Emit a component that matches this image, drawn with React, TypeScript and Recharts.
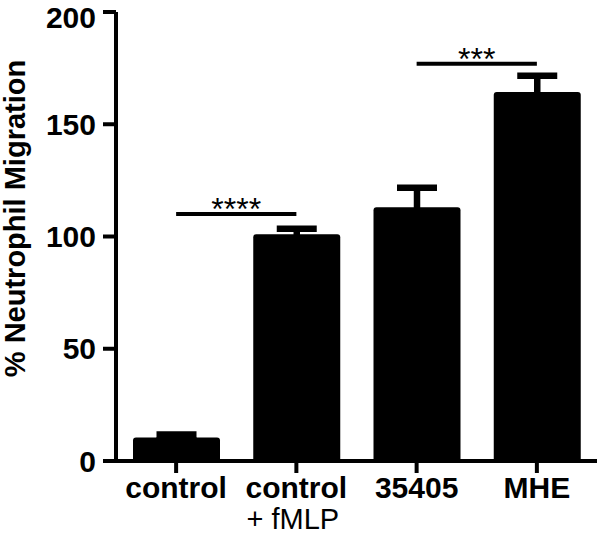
import { BarChart, Bar, XAxis, YAxis, ErrorBar, ReferenceLine } from "recharts";

const categories = ["control", "control + fMLP", "35405", "MHE"];
const means = [10.5, 101, 113, 164.4];
const errors = [1.3, 2.5, 8.7, 7.2];
const yTicks = [0, 50, 100, 150, 200];

// significance brackets: from, to, height, stars
const sigFrom = ["control", "35405"];
const sigTo = ["control + fMLP", "MHE"];
const sigY = [110, 177];
const sigText = ["****", "***"];

const data = categories.map((name, i) => ({ name, mean: means[i], err: errors[i] }));

const FONT = "'Liberation Sans', Arial, sans-serif";

const XTick = (props: any) => {
  const { x, y, payload } = props;
  const parts = String(payload.value).split(" + ");
  return (
    <g>
      <text x={x} y={y + 21} textAnchor="middle" fontFamily={FONT} fontSize={30} fontWeight="bold" fill="#000">
        {parts[0]}
      </text>
      {parts[1] && (
        <text x={x - 3.5} y={y + 52} textAnchor="middle" fontFamily={FONT} fontSize={29} fill="#000">
          {"+ " + parts[1]}
        </text>
      )}
    </g>
  );
};

const YLabel = (props: any) => {
  const { viewBox } = props;
  const cx = viewBox.x + 25;
  const cy = viewBox.y + viewBox.height / 2 - 18;
  return (
    <text
      x={cx}
      y={cy}
      transform={`rotate(-90 ${cx} ${cy})`}
      textAnchor="middle"
      fontFamily={FONT}
      fontSize={29}
      fontWeight="bold"
      fill="#000"
    >
      % Neutrophil Migration
    </text>
  );
};

const Stars = (props: any) => {
  const { viewBox, text } = props;
  return (
    <text
      x={viewBox.x + viewBox.width / 2}
      y={viewBox.y + 6}
      textAnchor="middle"
      fontFamily={FONT}
      fontSize={32}
      fill="#000"
    >
      {text}
    </text>
  );
};

export default function App() {
  return (
    <div style={{ position: "absolute", left: 0, top: 0, background: "#fff" }}>
      <BarChart width={600} height={536} data={data} margin={{ top: 12, right: 3, bottom: 0, left: 0 }}>
        <XAxis
          dataKey="name"
          height={75}
          axisLine={{ stroke: "#000", strokeWidth: 4 }}
          tickLine={{ stroke: "#000", strokeWidth: 4 }}
          tickSize={12}
          tickMargin={4}
          tick={<XTick />}
          interval={0}
        />
        <YAxis
          width={116}
          domain={[0, 200]}
          ticks={yTicks}
          axisLine={{ stroke: "#000", strokeWidth: 4 }}
          tickLine={{ stroke: "#000", strokeWidth: 4 }}
          tickSize={13}
          tickMargin={7}
          tick={{ fill: "#000", fontSize: 30, fontWeight: "bold", fontFamily: FONT }}
          label={<YLabel />}
        />
        <Bar dataKey="mean" fill="#000" barSize={87} radius={[3, 3, 0, 0]} isAnimationActive={false}>
          <ErrorBar dataKey="err" width={20} strokeWidth={6.5} stroke="#000" direction="y" isAnimationActive={false} />
        </Bar>
        {sigY.map((yv, i) => (
          <ReferenceLine
            key={i}
            segment={[
              { x: sigFrom[i], y: yv },
              { x: sigTo[i], y: yv },
            ]}
            stroke="#000"
            strokeWidth={4}
            ifOverflow="visible"
            label={<Stars text={sigText[i]} />}
          />
        ))}
      </BarChart>
    </div>
  );
}
